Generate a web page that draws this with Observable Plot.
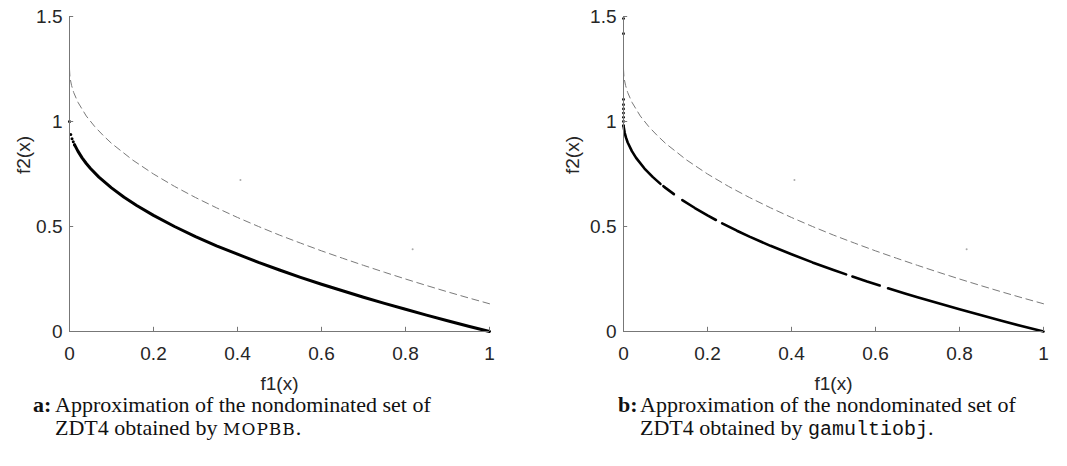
<!DOCTYPE html>
<html>
<head>
<meta charset="utf-8">
<script src="https://cdn.jsdelivr.net/npm/d3@7"></script>
<script src="https://cdn.jsdelivr.net/npm/@observablehq/plot@0.6"></script>
<style>
  html, body { margin: 0; padding: 0; background: #fff; }
  #wrap { position: relative; width: 1067px; height: 466px; overflow: hidden; }
  .panel { position: absolute; top: 0; }
  .cap { position: absolute; font-family: "Liberation Serif", serif; font-size: 22px; line-height: 23px; color: #111; display: flex; }
  .cap b { width: 22px; flex: none; }
  .sc { font-family: "DejaVu Serif", serif; font-size: 17px; letter-spacing: 1px; }
  .tt { font-family: "Liberation Mono", "DejaVu Sans Mono", monospace; font-size: 20px; }
</style>
</head>
<body>
<div id="wrap">
  <div id="pa" class="panel" style="left:0px"></div>
  <div id="pb" class="panel" style="left:533px"></div>
  <div class="cap" style="left:33px; top:393px;"><b>a:</b><div>Approximation of the nondominated set of<br>ZDT4 obtained by <span class="sc">MOPBB</span>.</div></div>
  <div class="cap" style="left:618px; top:393px;"><b>b:</b><div>Approximation of the nondominated set of<br>ZDT4 obtained by <span class="tt">gamultiobj</span>.</div></div>
</div>
<script>
// ---- tick values / labels ----
const xTicks = [0, 0.2, 0.4, 0.6, 0.8, 1];
const xTickLabels = ["0", "0.2", "0.4", "0.6", "0.8", "1"];
const yTicks = [0, 0.5, 1, 1.5];
const yTickLabels = ["0", "0.5", "1", "1.5"];
const xLabel = "f1(x)";
const yLabel = "f2(x)";

// ---- dashed reference curve ----
const dashF1 = [0, 0.001, 0.002, 0.005, 0.01, 0.02, 0.04, 0.06, 0.08, 0.1, 0.15, 0.2, 0.25, 0.3, 0.35, 0.4, 0.45, 0.5, 0.55, 0.6, 0.65, 0.7, 0.75, 0.8, 0.85, 0.9, 0.95, 1];
const dashF2 = [1.25, 1.215, 1.20, 1.171, 1.138, 1.092, 1.026, 0.976, 0.934, 0.896, 0.817, 0.75, 0.691, 0.638, 0.589, 0.543, 0.50, 0.459, 0.421, 0.384, 0.349, 0.315, 0.282, 0.25, 0.219, 0.189, 0.160, 0.132];

// ---- isolated grey points (both panels) ----
const greyF1 = [0.407, 0.817];
const greyF2 = [0.722, 0.392];

// ---- panel a: MOPBB ----
const mopbbDotF1 = [0, 0.003, 0.006, 0.009, 0.012];
const mopbbDotF2 = [1.0, 0.938, 0.918, 0.903, 0.889];
const mopbbF1 = [0.012, 0.015, 0.02, 0.03, 0.04, 0.05, 0.07, 0.1, 0.13, 0.16, 0.2, 0.25, 0.3, 0.35, 0.4, 0.45, 0.5, 0.55, 0.6, 0.65, 0.7, 0.75, 0.8, 0.85, 0.9, 0.95, 1.0];
const mopbbF2 = [0.889, 0.878, 0.859, 0.827, 0.80, 0.776, 0.735, 0.684, 0.639, 0.60, 0.553, 0.50, 0.452, 0.408, 0.368, 0.329, 0.293, 0.258, 0.225, 0.194, 0.163, 0.134, 0.106, 0.078, 0.051, 0.025, 0.0];

// ---- panel b: gamultiobj ----
const gaDotF1 = [0, 0, 0, 0, 0, 0, 0, 0, 0];
const gaDotF2 = [1.49, 1.418, 1.105, 1.08, 1.06, 1.04, 1.02, 1.0, 0.98];
const gaF1 = [0.0, 0.001, 0.003, 0.006, 0.01, 0.02, 0.03, 0.05, 0.07, 0.088,
              0.095, 0.1, 0.12,
              0.14, 0.17, 0.2, 0.22,
              0.235, 0.27, 0.3, 0.35, 0.4, 0.45, 0.5, 0.53,
              0.545, 0.58, 0.61,
              0.63, 0.67, 0.7, 0.75, 0.8, 0.85, 0.9, 0.95, 1.0];
const gaF2 = [0.98, 0.968, 0.945, 0.923, 0.90, 0.859, 0.827, 0.776, 0.735, 0.703,
              0.692, 0.684, 0.654,
              0.626, 0.588, 0.553, 0.531,
              0.515, 0.480, 0.452, 0.408, 0.368, 0.329, 0.293, 0.272,
              0.262, 0.238, 0.219,
              0.206, 0.181, 0.163, 0.134, 0.106, 0.078, 0.051, 0.025, 0.0];
const gaSeg = [1, 1, 1, 1, 1, 1, 1, 1, 1, 1,
               2, 2, 2,
               3, 3, 3, 3,
               4, 4, 4, 4, 4, 4, 4, 4,
               5, 5, 5,
               6, 6, 6, 6, 6, 6, 6, 6, 6];

const zip = (a, b, c) => a.map((v, i) => ({x: v, y: b[i], z: c ? c[i] : 0}));
const dash = zip(dashF1, dashF2);
const grey = zip(greyF1, greyF2);

const AXIS = "#777";
const TXT = "#262626";
const FONT = "Liberation Sans, Arial, sans-serif";
const FS = 19;

function panel(el, width, ml, mr, ylabDx, curveMarks) {
  const fig = Plot.plot({
    width, height: 395,
    marginTop: 16, marginBottom: 64, marginLeft: ml, marginRight: mr,
    x: {domain: [0, 1], axis: null},
    y: {domain: [0, 1.5], axis: null},
    style: {fontFamily: FONT, background: "white", overflow: "visible"},
    marks: [
      Plot.line(dash, {x: "x", y: "y", stroke: "#7a7a7a", strokeWidth: 1, strokeDasharray: "7,4.5"}),
      Plot.dot(grey, {x: "x", y: "y", r: 1, fill: "#aaa", stroke: "none"}),
      ...curveMarks,
      Plot.ruleX([0], {y1: 0, y2: 1.5, stroke: AXIS, strokeWidth: 1}),
      Plot.ruleY([0], {x1: 0, x2: 1, stroke: AXIS, strokeWidth: 1}),
      Plot.ruleX(xTicks, {x: d => d, y1: 0, y2: 0.02, stroke: AXIS}),
      Plot.ruleY(yTicks, {y: d => d, x1: 0, x2: 0.01, stroke: AXIS}),
      Plot.text(xTicks, {x: d => d, text: (d, i) => xTickLabels[i], frameAnchor: "bottom", dy: 22, fontSize: FS, fill: TXT, lineAnchor: "middle"}),
      Plot.text(yTicks, {y: d => d, text: (d, i) => yTickLabels[i], frameAnchor: "left", dx: -7, textAnchor: "end", fontSize: FS, fill: TXT, lineAnchor: "middle"}),
      Plot.text([xLabel], {x: () => 0.5, text: d => d, frameAnchor: "bottom", dy: 52, fontSize: FS, fill: TXT, lineAnchor: "middle"}),
      Plot.text([yLabel], {y: () => 0.75, text: d => d, frameAnchor: "left", dx: ylabDx, rotate: -90, fontSize: FS, fill: TXT, lineAnchor: "middle"})
    ]
  });
  document.getElementById(el).appendChild(fig);
}

panel("pa", 533, 69, 44, -46, [
  Plot.line(zip(mopbbF1, mopbbF2), {x: "x", y: "y", stroke: "#000", strokeWidth: 3}),
  Plot.dot(zip(mopbbDotF1, mopbbDotF2), {x: "x", y: "y", r: 1.5, fill: "#000", stroke: "none"})
]);

panel("pb", 534, 90, 24, -51, [
  Plot.line(zip(gaF1, gaF2, gaSeg), {x: "x", y: "y", z: "z", stroke: "#000", strokeWidth: 2.6}),
  Plot.dot(zip(gaDotF1, gaDotF2), {x: "x", y: "y", r: 1.4, fill: "#000", stroke: "none"})
]);
</script>
</body>
</html>
